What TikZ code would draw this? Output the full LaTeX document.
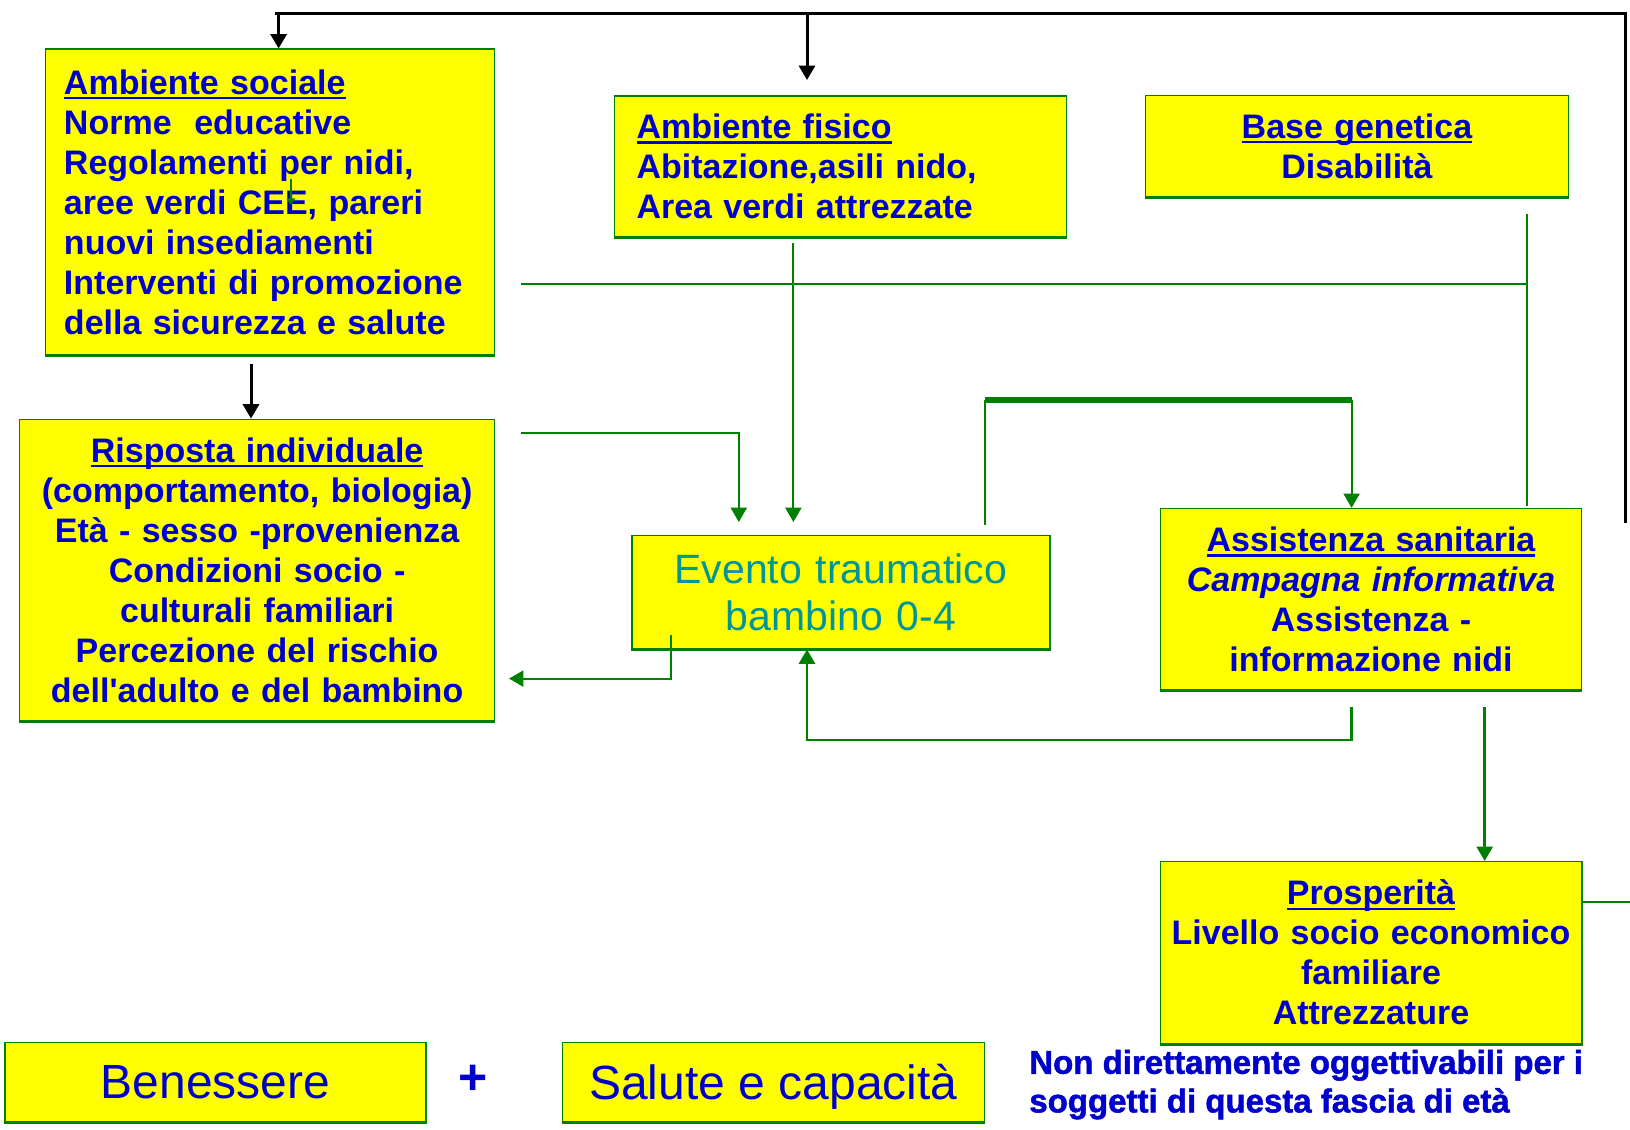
\documentclass[tikz,border=0pt]{standalone}
\usepackage{fontspec}
\setmainfont{Liberation Sans}
\newfontfamily\heavyfont{Liberation Sans}[BoldFeatures={FakeBold=1.5}]
\usetikzlibrary{arrows.meta,calc}
\definecolor{boxfill}{RGB}{255,255,0}
\definecolor{boxline}{RGB}{0,128,0}
\definecolor{txtblue}{RGB}{0,0,204}
\definecolor{txtteal}{RGB}{0,150,150}
\newcommand{\myul}[1]{\setbox0\hbox{#1}\rlap{\rule[-0.15em]{\wd0}{0.07em}}\box0}
\begin{document}
\begin{tikzpicture}[x=0.6pt,y=-0.6pt,
  box/.style={draw=boxline, fill=boxfill, line width=0.9pt, inner sep=0pt, text=txtblue,
              font=\bfseries\fontsize{20.4pt}{24pt}\selectfont},
  bx/.style n args={2}{minimum width=#1*0.6pt, minimum height=#2*0.6pt},
  blk/.style={draw=black, line width=1.8pt},
  grn/.style={draw=boxline, line width=1.2pt},
  arrowed/.style={-{Triangle[width=9.6pt,length=8.6pt]}},
  bigtxt/.style={font=\fontsize{28.8pt}{34pt}\selectfont, text depth=0pt}
]
\useasboundingbox (0,0) rectangle (1630,1129);

% boxes
\node[box, bx={449}{306}, text width=412.4*0.6pt, align=left] (soc) at (270.2,202.2)
  {\myul{Ambiente sociale}\\
   Norme\ \ educative\\
   Regolamenti per nidi,\\
   aree verdi CEE, pareri\\
   nuovi insediamenti\\
   Interventi di promozione\\
   della sicurezza e salute};

\node[box, bx={475}{301.4}, text width=465*0.6pt, align=center] (risp) at (257.1,570)
  {\myul{Risposta individuale}\\
   (comportamento, biologia)\\
   Età - sesso -provenienza\\
   Condizioni socio -\\
   culturali familiari\\
   Percezione del rischio\\
   dell\textquotesingle adulto e del bambino};

\node[box, bx={451.7}{141.3}, text width=408*0.6pt, align=left] (fis) at (840.5,166.4)
  {\myul{Ambiente fisico}\\
   Abitazione,asili nido,\\
   Area verdi attrezzate};

\node[box, bx={423}{101}, text width=400*0.6pt, align=center] (gen) at (1357,146.2)
  {\myul{Base genetica}\\
   Disabilità};

\node[box, bx={418.3}{113}, text width=400*0.6pt, align=center, text=txtteal,
      font=\fontsize{24.6pt}{28pt}\selectfont] (evento) at (840.9,592.2)
  {Evento traumatico\\
   bambino 0-4};

\node[box, bx={421}{181.3}, text width=410*0.6pt, align=center] (ass) at (1371,599.3)
  {\myul{Assistenza sanitaria}\\
   \textit{Campagna informativa}\\
   Assistenza -\\
   informazione nidi};

\node[box, bx={421.5}{181.6}, text width=410*0.6pt, align=center] (pros) at (1371,952.5)
  {\myul{Prosperità}\\
   Livello socio economico\\
   familiare\\
   Attrezzature};

\node[box, bx={420.8}{79}, bigtxt] (ben) at (215.6,1082.2) {Benessere};
\node[box, bx={422}{79}, bigtxt] (sal) at (773.4,1082.2) {Salute e capacità};

\node[text=txtblue, font=\bfseries\fontsize{30pt}{34pt}\selectfont, inner sep=0pt] (plus) at (473,1080) {+};

\node[text=txtblue, font=\heavyfont\bfseries\fontsize{19.8pt}{23.2pt}\selectfont,
      inner sep=0pt, anchor=north west, align=left] (note) at (1029,1049.5)
  {Non direttamente oggettivabili per i\\
   soggetti di questa fascia di età};

% thicker bottom edges
\foreach \n in {soc,risp,fis,gen,evento,ass,pros,ben,sal}
  \draw[boxline, line width=1.8pt] (\n.south west) -- (\n.south east);

% black connectors
\coordinate (blkR) at (1625,523);
\coordinate (blkC) at (1625,13.3);
\coordinate (blkL) at (275,13.3);
\draw[blk] (blkR) -- (blkC) -- (blkL);
\coordinate (a1) at (278.6,13.3);
\draw[blk,arrowed] (a1) -- (a1 |- soc.north);
\coordinate (a2) at (807,13.3);
\coordinate (a2e) at (807,80);
\draw[blk,arrowed] (a2) -- (a2e);
\coordinate (a3) at (251,364);
\draw[blk,arrowed] (a3) -- (a3 |- risp.north);

% green connectors
\coordinate (g1) at (521,433.3);
\coordinate (g1b) at (738.8,433.3);
\coordinate (g1e) at (738.8,522);
\draw[grn,arrowed] (g1) -- (g1b) -- (g1e);

\coordinate (g2) at (793.4,243.3);
\coordinate (g2e) at (793.4,522);
\draw[grn,arrowed] (g2) -- (g2e);

\coordinate (g3) at (521,284.3);
\coordinate (g3e) at (1527,284.3);
\draw[grn] (g3) -- (g3e);

\coordinate (g4) at (1527,214.3);
\coordinate (g4e) at (1527,506);
\draw[grn] (g4) -- (g4e);

\coordinate (b1) at (984.5,525);
\coordinate (b2) at (984.5,400);
\coordinate (b3) at (1351.6,400);
\draw[grn] (b1) -- (b2);
\draw[grn, line width=3.6pt] (b2) -- (b3);
\draw[grn,arrowed] (b3) -- (b3 |- ass.north);

\coordinate (e1) at (671.2,635);
\coordinate (e2) at (671.2,678.6);
\coordinate (e3) at (509,678.6);
\draw[grn,arrowed] (e1) -- (e2) -- (e3);

\coordinate (f1) at (1351.6,706.7);
\coordinate (f2) at (1351.6,740);
\coordinate (f3) at (807,740);
\draw[grn, line width=1.6pt, arrowed] (f1) -- (f2) -- (f3) -- (f3 |- evento.south);

\coordinate (h1) at (1484.7,706.7);
\draw[grn, line width=1.6pt, arrowed] (h1) -- (h1 |- pros.north);

\coordinate (p1) at (1630,901.7);
\draw[grn] (pros.east |- p1) -- (p1);

\coordinate (t1) at (291,179);
\draw[grn, line width=0.8pt, -{Triangle[width=5pt,length=4pt]}] (t1) -- ++(0,26);
\end{tikzpicture}
\end{document}
